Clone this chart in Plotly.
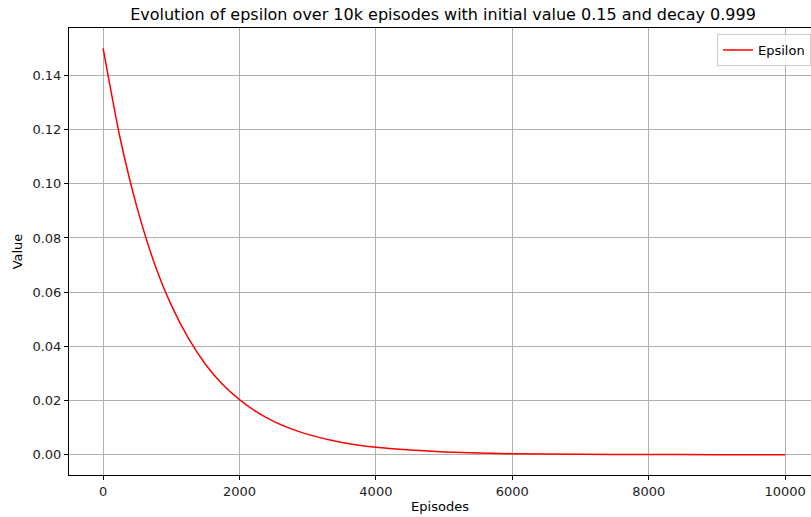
import plotly.graph_objects as go

episodes = [0, 250, 500, 750, 1000, 1250, 1500, 1750, 2000, 2250, 2500, 2750, 3000,
            3500, 4000, 4500, 5000, 6000, 7000, 8000, 9000, 10000]
epsilon = [0.15, 0.1168, 0.0910, 0.0708, 0.0552, 0.0430, 0.0334, 0.0260, 0.0203, 0.0158,
           0.0123, 0.0096, 0.0075, 0.0045, 0.0027, 0.0017, 0.0010, 0.00037, 0.00014,
           0.00005, 0.00002, 0.000007]
x_ticks = [0, 2000, 4000, 6000, 8000, 10000]
y_ticks = [0.00, 0.02, 0.04, 0.06, 0.08, 0.10, 0.12, 0.14]

font = "DejaVu Sans, sans-serif"

W, H = 811, 517
L, T, B = 69, 28, 42

fig = go.Figure()
fig.add_trace(go.Scatter(x=episodes, y=epsilon, mode="lines", name="Epsilon",
                         line=dict(color="red", width=1.5, shape="spline", smoothing=0.6)))

fig.update_layout(
    width=W, height=H,
    margin=dict(l=L, r=0, t=T, b=B, autoexpand=False),
    paper_bgcolor="white", plot_bgcolor="white",
    font=dict(family=font, size=13, color="black"),
    title=dict(text="Evolution of epsilon over 10k episodes with initial value 0.15 and decay 0.999",
               x=443 / W, xanchor="center", y=1 - 14 / H, yanchor="middle",
               font=dict(size=16, family=font, color="black")),
    showlegend=True,
    legend=dict(x=(717 - 69) / 742, xanchor="left", y=1 - 6 / 447, yanchor="top",
                bordercolor="#cccccc", borderwidth=1, bgcolor="rgba(255,255,255,0.8)",
                font=dict(size=13, family=font, color="black")),
)
fig.update_xaxes(range=[-500, 10380], tickvals=x_ticks, ticktext=[str(v) for v in x_ticks],
                 showgrid=True, gridcolor="#b0b0b0", gridwidth=1, automargin=False,
                 showline=True, linecolor="black", linewidth=1, mirror=True,
                 ticks="outside", ticklen=4, tickcolor="black", zeroline=False,
                 title=dict(text="Episodes", font=dict(size=13, family=font), standoff=4),
                 tickfont=dict(size=13, family=font, color="#222"))
fig.update_yaxes(range=[-0.0075, 0.1575], tickvals=y_ticks, ticktext=[f"{v:.2f}" for v in y_ticks],
                 showgrid=True, gridcolor="#b0b0b0", gridwidth=1, automargin=False,
                 showline=True, linecolor="black", linewidth=1, mirror=False,
                 ticks="outside", ticklen=4, tickcolor="black", zeroline=False,
                 title=dict(text="Value", font=dict(size=13, family=font), standoff=6),
                 tickfont=dict(size=13, family=font, color="#222"))

fig.write_html("out.html", config={"displayModeBar": False},
               post_script="document.body.style.margin='0';document.body.style.overflow='hidden';")
